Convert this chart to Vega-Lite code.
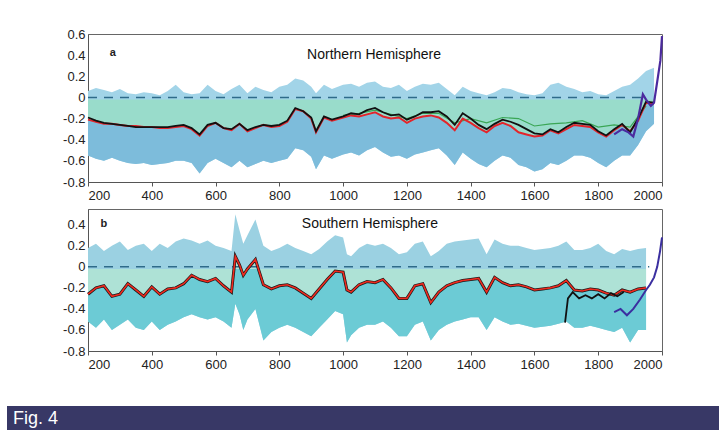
{
"$schema": "https://vega.github.io/schema/vega-lite/v6.json",
"background": "white",
"padding": {"left": 7, "top": 27, "right": 0, "bottom": 0},
"config": {
  "font": "Liberation Sans",
  "view": {"stroke": "#666", "strokeWidth": 1},
  "axis": {"labelFontSize": 13, "labelColor": "#222", "domainColor": "#555", "tickColor": "#555", "grid": false, "labelOverlap": false},
  "axisX": {"tickSize": 4, "labelPadding": 3},
  "axisY": {"ticks": false, "labelPadding": 3}
},
"datasets": {
  "nh": [
    {"year":200,"hi":0.06,"lo":-0.55,"red":-0.21,"blk":-0.19},
    {"year":225,"hi":0.09,"lo":-0.58,"red":-0.23,"blk":-0.22},
    {"year":250,"hi":0.07,"lo":-0.60,"red":-0.25,"blk":-0.24},
    {"year":275,"hi":0.05,"lo":-0.57,"red":-0.25,"blk":-0.25},
    {"year":300,"hi":0.08,"lo":-0.60,"red":-0.26,"blk":-0.26},
    {"year":325,"hi":0.04,"lo":-0.62,"red":-0.27,"blk":-0.27},
    {"year":350,"hi":0.03,"lo":-0.63,"red":-0.27,"blk":-0.28},
    {"year":375,"hi":0.05,"lo":-0.62,"red":-0.28,"blk":-0.28},
    {"year":400,"hi":0.04,"lo":-0.64,"red":-0.28,"blk":-0.28},
    {"year":425,"hi":0.02,"lo":-0.63,"red":-0.29,"blk":-0.28},
    {"year":450,"hi":0.06,"lo":-0.62,"red":-0.29,"blk":-0.28},
    {"year":475,"hi":0.12,"lo":-0.60,"red":-0.28,"blk":-0.27},
    {"year":500,"hi":0.05,"lo":-0.60,"red":-0.27,"blk":-0.26},
    {"year":525,"hi":0.03,"lo":-0.62,"red":-0.30,"blk":-0.29},
    {"year":550,"hi":0.04,"lo":-0.72,"red":-0.36,"blk":-0.35},
    {"year":575,"hi":0.12,"lo":-0.62,"red":-0.27,"blk":-0.26},
    {"year":600,"hi":0.06,"lo":-0.58,"red":-0.24,"blk":-0.24},
    {"year":625,"hi":0.03,"lo":-0.62,"red":-0.29,"blk":-0.29},
    {"year":650,"hi":0.08,"lo":-0.66,"red":-0.31,"blk":-0.30},
    {"year":675,"hi":0.12,"lo":-0.60,"red":-0.25,"blk":-0.25},
    {"year":700,"hi":0.04,"lo":-0.66,"red":-0.32,"blk":-0.31},
    {"year":725,"hi":0.10,"lo":-0.63,"red":-0.29,"blk":-0.28},
    {"year":750,"hi":0.07,"lo":-0.60,"red":-0.26,"blk":-0.26},
    {"year":775,"hi":0.05,"lo":-0.62,"red":-0.28,"blk":-0.27},
    {"year":800,"hi":0.10,"lo":-0.60,"red":-0.27,"blk":-0.26},
    {"year":825,"hi":0.12,"lo":-0.58,"red":-0.23,"blk":-0.22},
    {"year":850,"hi":0.18,"lo":-0.48,"red":-0.11,"blk":-0.10},
    {"year":875,"hi":0.16,"lo":-0.50,"red":-0.13,"blk":-0.13},
    {"year":900,"hi":0.10,"lo":-0.56,"red":-0.20,"blk":-0.19},
    {"year":915,"hi":0.04,"lo":-0.68,"red":-0.33,"blk":-0.32},
    {"year":940,"hi":0.12,"lo":-0.55,"red":-0.19,"blk":-0.18},
    {"year":965,"hi":0.08,"lo":-0.58,"red":-0.22,"blk":-0.21},
    {"year":1000,"hi":0.12,"lo":-0.54,"red":-0.19,"blk":-0.18},
    {"year":1025,"hi":0.13,"lo":-0.52,"red":-0.17,"blk":-0.15},
    {"year":1050,"hi":0.10,"lo":-0.55,"red":-0.18,"blk":-0.16},
    {"year":1075,"hi":0.14,"lo":-0.50,"red":-0.16,"blk":-0.12},
    {"year":1100,"hi":0.15,"lo":-0.47,"red":-0.14,"blk":-0.10},
    {"year":1125,"hi":0.10,"lo":-0.52,"red":-0.18,"blk":-0.14},
    {"year":1150,"hi":0.09,"lo":-0.56,"red":-0.20,"blk":-0.17},
    {"year":1175,"hi":0.12,"lo":-0.55,"red":-0.19,"blk":-0.16},
    {"year":1200,"hi":0.06,"lo":-0.58,"red":-0.24,"blk":-0.21},
    {"year":1225,"hi":0.10,"lo":-0.54,"red":-0.20,"blk":-0.18},
    {"year":1250,"hi":0.13,"lo":-0.52,"red":-0.18,"blk":-0.14},
    {"year":1275,"hi":0.12,"lo":-0.50,"red":-0.17,"blk":-0.14},
    {"year":1300,"hi":0.14,"lo":-0.48,"red":-0.19,"blk":-0.13},
    {"year":1325,"hi":0.08,"lo":-0.55,"red":-0.24,"blk":-0.18},
    {"year":1350,"hi":0.02,"lo":-0.64,"red":-0.31,"blk":-0.26},
    {"year":1375,"hi":0.10,"lo":-0.52,"red":-0.20,"blk":-0.15},
    {"year":1400,"hi":0.06,"lo":-0.58,"red":-0.24,"blk":-0.20},
    {"year":1425,"hi":0.04,"lo":-0.63,"red":-0.29,"blk":-0.26},
    {"year":1450,"hi":0.02,"lo":-0.66,"red":-0.33,"blk":-0.30},
    {"year":1475,"hi":0.05,"lo":-0.60,"red":-0.27,"blk":-0.25},
    {"year":1500,"hi":0.09,"lo":-0.55,"red":-0.24,"blk":-0.21},
    {"year":1525,"hi":0.08,"lo":-0.57,"red":-0.27,"blk":-0.23},
    {"year":1550,"hi":0.05,"lo":-0.64,"red":-0.33,"blk":-0.26},
    {"year":1575,"hi":0.03,"lo":-0.66,"red":-0.35,"blk":-0.30},
    {"year":1600,"hi":0.02,"lo":-0.70,"red":-0.37,"blk":-0.34},
    {"year":1625,"hi":0.04,"lo":-0.68,"red":-0.36,"blk":-0.35},
    {"year":1650,"hi":0.12,"lo":-0.62,"red":-0.31,"blk":-0.30},
    {"year":1675,"hi":0.14,"lo":-0.64,"red":-0.34,"blk":-0.33},
    {"year":1700,"hi":0.10,"lo":-0.60,"red":-0.30,"blk":-0.28},
    {"year":1725,"hi":0.08,"lo":-0.55,"red":-0.26,"blk":-0.24},
    {"year":1750,"hi":0.05,"lo":-0.55,"red":-0.27,"blk":-0.25},
    {"year":1775,"hi":0.06,"lo":-0.57,"red":-0.28,"blk":-0.26},
    {"year":1800,"hi":0.03,"lo":-0.62,"red":-0.33,"blk":-0.32},
    {"year":1825,"hi":0.02,"lo":-0.66,"red":-0.37,"blk":-0.36},
    {"year":1850,"hi":0.06,"lo":-0.60,"red":-0.31,"blk":-0.30},
    {"year":1875,"hi":0.10,"lo":-0.55,"red":-0.26,"blk":-0.25},
    {"year":1900,"hi":0.12,"lo":-0.55,"red":-0.32,"blk":-0.33},
    {"year":1925,"hi":0.18,"lo":-0.45,"red":-0.22,"blk":-0.20},
    {"year":1950,"hi":0.25,"lo":-0.32,"red":-0.05,"blk":-0.04},
    {"year":1975,"hi":0.28,"lo":-0.25,"red":-0.06,"blk":-0.05}
  ],
  "nhg": [
    {"year":1000,"v":-0.17},{"year":1050,"v":-0.15},{"year":1100,"v":-0.12},{"year":1150,"v":-0.16},
    {"year":1200,"v":-0.20},{"year":1250,"v":-0.15},{"year":1300,"v":-0.15},{"year":1350,"v":-0.24},
    {"year":1400,"v":-0.20},{"year":1450,"v":-0.24},{"year":1500,"v":-0.19},{"year":1550,"v":-0.20},
    {"year":1600,"v":-0.27},{"year":1650,"v":-0.25},{"year":1700,"v":-0.24},{"year":1750,"v":-0.22},
    {"year":1800,"v":-0.28},{"year":1850,"v":-0.26},{"year":1900,"v":-0.28},{"year":1950,"v":-0.08}
  ],
  "nhi": [
    {"year":1850,"v":-0.35},{"year":1875,"v":-0.30},{"year":1895,"v":-0.33},{"year":1910,"v":-0.37},
    {"year":1925,"v":-0.20},{"year":1940,"v":0.03},{"year":1950,"v":-0.02},{"year":1965,"v":-0.08},
    {"year":1975,"v":-0.05},{"year":1985,"v":0.15},{"year":1995,"v":0.35},{"year":2000,"v":0.58}
  ],
  "sh": [
    {"year":200,"hi":0.18,"lo":-0.52,"red":-0.26},
    {"year":225,"hi":0.22,"lo":-0.58,"red":-0.20},
    {"year":250,"hi":0.15,"lo":-0.50,"red":-0.18},
    {"year":275,"hi":0.20,"lo":-0.60,"red":-0.28},
    {"year":300,"hi":0.24,"lo":-0.55,"red":-0.26},
    {"year":325,"hi":0.16,"lo":-0.50,"red":-0.16},
    {"year":350,"hi":0.20,"lo":-0.58,"red":-0.22},
    {"year":375,"hi":0.22,"lo":-0.60,"red":-0.28},
    {"year":400,"hi":0.15,"lo":-0.52,"red":-0.19},
    {"year":425,"hi":0.22,"lo":-0.60,"red":-0.26},
    {"year":450,"hi":0.18,"lo":-0.55,"red":-0.21},
    {"year":475,"hi":0.24,"lo":-0.52,"red":-0.20},
    {"year":500,"hi":0.27,"lo":-0.48,"red":-0.16},
    {"year":525,"hi":0.25,"lo":-0.45,"red":-0.08},
    {"year":550,"hi":0.22,"lo":-0.48,"red":-0.12},
    {"year":575,"hi":0.25,"lo":-0.50,"red":-0.14},
    {"year":600,"hi":0.20,"lo":-0.48,"red":-0.11},
    {"year":625,"hi":0.18,"lo":-0.52,"red":-0.18},
    {"year":650,"hi":0.15,"lo":-0.58,"red":-0.24},
    {"year":662,"hi":0.50,"lo":-0.35,"red":0.10},
    {"year":675,"hi":0.35,"lo":-0.45,"red":0.02},
    {"year":687,"hi":0.22,"lo":-0.60,"red":-0.08},
    {"year":700,"hi":0.30,"lo":-0.50,"red":-0.02},
    {"year":725,"hi":0.45,"lo":-0.40,"red":0.07},
    {"year":750,"hi":0.20,"lo":-0.70,"red":-0.17},
    {"year":775,"hi":0.15,"lo":-0.62,"red":-0.21},
    {"year":800,"hi":0.18,"lo":-0.58,"red":-0.18},
    {"year":825,"hi":0.22,"lo":-0.55,"red":-0.17},
    {"year":850,"hi":0.18,"lo":-0.58,"red":-0.20},
    {"year":875,"hi":0.15,"lo":-0.62,"red":-0.25},
    {"year":900,"hi":0.12,"lo":-0.66,"red":-0.30},
    {"year":925,"hi":0.17,"lo":-0.58,"red":-0.21},
    {"year":950,"hi":0.24,"lo":-0.50,"red":-0.12},
    {"year":975,"hi":0.30,"lo":-0.42,"red":-0.04},
    {"year":1000,"hi":0.28,"lo":-0.45,"red":-0.05},
    {"year":1012,"hi":0.12,"lo":-0.72,"red":-0.22},
    {"year":1025,"hi":0.10,"lo":-0.65,"red":-0.24},
    {"year":1050,"hi":0.18,"lo":-0.58,"red":-0.17},
    {"year":1075,"hi":0.22,"lo":-0.55,"red":-0.14},
    {"year":1100,"hi":0.20,"lo":-0.55,"red":-0.15},
    {"year":1125,"hi":0.22,"lo":-0.52,"red":-0.12},
    {"year":1150,"hi":0.18,"lo":-0.58,"red":-0.20},
    {"year":1175,"hi":0.12,"lo":-0.66,"red":-0.30},
    {"year":1200,"hi":0.14,"lo":-0.66,"red":-0.30},
    {"year":1225,"hi":0.22,"lo":-0.55,"red":-0.18},
    {"year":1250,"hi":0.24,"lo":-0.52,"red":-0.16},
    {"year":1275,"hi":0.10,"lo":-0.70,"red":-0.34},
    {"year":1300,"hi":0.15,"lo":-0.60,"red":-0.24},
    {"year":1325,"hi":0.22,"lo":-0.55,"red":-0.18},
    {"year":1350,"hi":0.24,"lo":-0.52,"red":-0.15},
    {"year":1375,"hi":0.25,"lo":-0.50,"red":-0.13},
    {"year":1400,"hi":0.26,"lo":-0.48,"red":-0.12},
    {"year":1425,"hi":0.27,"lo":-0.48,"red":-0.11},
    {"year":1450,"hi":0.12,"lo":-0.60,"red":-0.24},
    {"year":1475,"hi":0.26,"lo":-0.48,"red":-0.10},
    {"year":1500,"hi":0.22,"lo":-0.52,"red":-0.15},
    {"year":1525,"hi":0.20,"lo":-0.55,"red":-0.18},
    {"year":1550,"hi":0.20,"lo":-0.54,"red":-0.17},
    {"year":1575,"hi":0.18,"lo":-0.56,"red":-0.19},
    {"year":1600,"hi":0.16,"lo":-0.58,"red":-0.22},
    {"year":1625,"hi":0.17,"lo":-0.57,"red":-0.21},
    {"year":1650,"hi":0.18,"lo":-0.56,"red":-0.20},
    {"year":1675,"hi":0.20,"lo":-0.54,"red":-0.18},
    {"year":1700,"hi":0.24,"lo":-0.52,"red":-0.13},
    {"year":1725,"hi":0.16,"lo":-0.58,"red":-0.22},
    {"year":1750,"hi":0.16,"lo":-0.58,"red":-0.23},
    {"year":1775,"hi":0.18,"lo":-0.56,"red":-0.21},
    {"year":1800,"hi":0.22,"lo":-0.58,"red":-0.22},
    {"year":1825,"hi":0.15,"lo":-0.60,"red":-0.25},
    {"year":1850,"hi":0.12,"lo":-0.62,"red":-0.27},
    {"year":1875,"hi":0.17,"lo":-0.58,"red":-0.22},
    {"year":1900,"hi":0.15,"lo":-0.72,"red":-0.24},
    {"year":1925,"hi":0.17,"lo":-0.60,"red":-0.21},
    {"year":1950,"hi":0.18,"lo":-0.60,"red":-0.20}
  ],
  "shb": [
    {"year":1696,"v":-0.53},{"year":1705,"v":-0.30},{"year":1720,"v":-0.24},{"year":1740,"v":-0.30},
    {"year":1760,"v":-0.27},{"year":1780,"v":-0.30},{"year":1800,"v":-0.26},{"year":1820,"v":-0.30},
    {"year":1840,"v":-0.25},{"year":1860,"v":-0.28},{"year":1880,"v":-0.24}
  ],
  "shi": [
    {"year":1850,"v":-0.43},{"year":1870,"v":-0.40},{"year":1890,"v":-0.46},{"year":1910,"v":-0.40},
    {"year":1931,"v":-0.31},{"year":1950,"v":-0.22},{"year":1962,"v":-0.17},{"year":1975,"v":-0.10},
    {"year":1985,"v":0.0},{"year":1994,"v":0.15},{"year":2000,"v":0.28}
  ]
},
"spacing": 34,
"vconcat": [
  {
    "spacing": 0,
    "hconcat": [
      {
        "width": 55,
        "height": 10,
        "view": {"fill": "white", "stroke": null},
        "data": {"values": []},
        "mark": "point"
      },
      {
        "spacing": 5,
        "vconcat": [
          {
            "width": 574,
            "height": 148,
            "layer": [
              {"data": {"name": "nh"}, "mark": {"type": "area", "color": "#a2d4e8"},
               "encoding": {
                 "x": {"field": "year", "type": "quantitative", "title": null, "scale": {"domain": [200, 2000], "nice": false, "zero": false},
                       "axis": {"values": [200,400,600,800,1000,1200,1400,1600,1800,2000], "tickCount": 20, "format": "d", "labelOverlap": false}},
                 "y": {"field": "lo", "type": "quantitative", "title": null, "scale": {"domain": [-0.8, 0.6], "nice": false, "zero": false},
                       "axis": {"values": [-0.8,-0.6,-0.4,-0.2,0,0.2,0.4,0.6], "tickCount": 20, "labelOverlap": false, "labelExpr": "replace(format(datum.value, '.1~f'), '\u2212', '-')"}},
                 "y2": {"field": "hi"}}},
              {"data": {"name": "nh"}, "mark": {"type": "area", "color": "#7dbcdb"},
               "encoding": {
                 "x": {"field": "year", "type": "quantitative", "title": null, "scale": {"domain": [200, 2000], "nice": false, "zero": false}},
                 "y": {"field": "lo", "type": "quantitative", "title": null, "scale": {"domain": [-0.8, 0.6], "nice": false, "zero": false}},
                 "y2": {"field": "red"}}},
              {"data": {"name": "nh"}, "mark": {"type": "area", "color": "#99dccb"},
               "encoding": {
                 "x": {"field": "year", "type": "quantitative", "title": null, "scale": {"domain": [200, 2000], "nice": false, "zero": false}},
                 "y": {"field": "red", "type": "quantitative", "title": null, "scale": {"domain": [-0.8, 0.6], "nice": false, "zero": false}},
                 "y2": {"datum": -0.02}}},
              {"data": {"values": [{}]}, "mark": {"type": "rule", "color": "#2f6b8a", "strokeDash": [9, 7], "strokeWidth": 1.5},
               "encoding": {
                 "x": {"datum": 200, "type": "quantitative", "title": null, "scale": {"domain": [200, 2000], "nice": false, "zero": false}},
                 "x2": {"datum": 1950},
                 "y": {"datum": 0, "type": "quantitative", "title": null, "scale": {"domain": [-0.8, 0.6], "nice": false, "zero": false}}}},
              {"data": {"name": "nhg"}, "mark": {"type": "line", "color": "#3aa655", "strokeWidth": 1.2},
               "encoding": {
                 "x": {"field": "year", "type": "quantitative", "title": null, "scale": {"domain": [200, 2000], "nice": false, "zero": false}},
                 "y": {"field": "v", "type": "quantitative", "title": null, "scale": {"domain": [-0.8, 0.6], "nice": false, "zero": false}}}},
              {"data": {"name": "nh"}, "mark": {"type": "line", "color": "#e3242b", "strokeWidth": 2},
               "encoding": {
                 "x": {"field": "year", "type": "quantitative", "title": null, "scale": {"domain": [200, 2000], "nice": false, "zero": false}},
                 "y": {"field": "red", "type": "quantitative", "title": null, "scale": {"domain": [-0.8, 0.6], "nice": false, "zero": false}}}},
              {"data": {"name": "nh"}, "mark": {"type": "line", "color": "#111111", "strokeWidth": 1.8},
               "encoding": {
                 "x": {"field": "year", "type": "quantitative", "title": null, "scale": {"domain": [200, 2000], "nice": false, "zero": false}},
                 "y": {"field": "blk", "type": "quantitative", "title": null, "scale": {"domain": [-0.8, 0.6], "nice": false, "zero": false}}}},
              {"data": {"name": "nhi"}, "mark": {"type": "line", "color": "#4b2a9e", "strokeWidth": 2.2},
               "encoding": {
                 "x": {"field": "year", "type": "quantitative", "title": null, "scale": {"domain": [200, 2000], "nice": false, "zero": false}},
                 "y": {"field": "v", "type": "quantitative", "title": null, "scale": {"domain": [-0.8, 0.6], "nice": false, "zero": false}}}},
              {"data": {"values": [{"label": "Northern Hemisphere"}]}, "mark": {"type": "text", "fontSize": 14, "color": "#111"},
               "encoding": {"text": {"field": "label"},
                 "x": {"datum": 1097, "type": "quantitative", "title": null, "scale": {"domain": [200, 2000], "nice": false, "zero": false}},
                 "y": {"datum": 0.4, "type": "quantitative", "title": null, "scale": {"domain": [-0.8, 0.6], "nice": false, "zero": false}}}},
              {"data": {"values": [{"label": "a"}]}, "mark": {"type": "text", "fontSize": 11, "fontWeight": "bold", "color": "#222"},
               "encoding": {"text": {"field": "label"},
                 "x": {"datum": 278, "type": "quantitative", "title": null, "scale": {"domain": [200, 2000], "nice": false, "zero": false}},
                 "y": {"datum": 0.42, "type": "quantitative", "title": null, "scale": {"domain": [-0.8, 0.6], "nice": false, "zero": false}}}}
            ]
          },
          {
            "width": 574,
            "height": 142,
            "layer": [
              {"data": {"name": "sh"}, "mark": {"type": "area", "color": "#9bd1e2"},
               "encoding": {
                 "x": {"field": "year", "type": "quantitative", "title": null, "scale": {"domain": [200, 2000], "nice": false, "zero": false},
                       "axis": {"values": [200,400,600,800,1000,1200,1400,1600,1800,2000], "tickCount": 20, "format": "d", "labelOverlap": false}},
                 "y": {"field": "lo", "type": "quantitative", "title": null, "scale": {"domain": [-0.8, 0.55], "nice": false, "zero": false},
                       "axis": {"values": [-0.8,-0.6,-0.4,-0.2,0,0.2,0.4], "tickCount": 20, "labelOverlap": false, "labelExpr": "replace(format(datum.value, '.1~f'), '\u2212', '-')"}},
                 "y2": {"field": "hi"}}},
              {"data": {"name": "sh"}, "mark": {"type": "area", "color": "#6ccbd5"},
               "encoding": {
                 "x": {"field": "year", "type": "quantitative", "title": null, "scale": {"domain": [200, 2000], "nice": false, "zero": false}},
                 "y": {"field": "lo", "type": "quantitative", "title": null, "scale": {"domain": [-0.8, 0.55], "nice": false, "zero": false}},
                 "y2": {"field": "red"}}},
              {"data": {"name": "sh"}, "mark": {"type": "area", "color": "#aee2d6"},
               "encoding": {
                 "x": {"field": "year", "type": "quantitative", "title": null, "scale": {"domain": [200, 2000], "nice": false, "zero": false}},
                 "y": {"field": "red", "type": "quantitative", "title": null, "scale": {"domain": [-0.8, 0.55], "nice": false, "zero": false}},
                 "y2": {"datum": -0.02}}},
              {"data": {"values": [{}]}, "mark": {"type": "rule", "color": "#2f6b8a", "strokeDash": [9, 7], "strokeWidth": 1.5},
               "encoding": {
                 "x": {"datum": 200, "type": "quantitative", "title": null, "scale": {"domain": [200, 2000], "nice": false, "zero": false}},
                 "x2": {"datum": 1960},
                 "y": {"datum": 0, "type": "quantitative", "title": null, "scale": {"domain": [-0.8, 0.55], "nice": false, "zero": false}}}},
              {"data": {"name": "sh"}, "mark": {"type": "line", "color": "#1a1a1a", "strokeWidth": 3},
               "encoding": {
                 "x": {"field": "year", "type": "quantitative", "title": null, "scale": {"domain": [200, 2000], "nice": false, "zero": false}},
                 "y": {"field": "red", "type": "quantitative", "title": null, "scale": {"domain": [-0.8, 0.55], "nice": false, "zero": false}}}},
              {"data": {"name": "sh"}, "mark": {"type": "line", "color": "#ee2a1f", "strokeWidth": 1.6},
               "encoding": {
                 "x": {"field": "year", "type": "quantitative", "title": null, "scale": {"domain": [200, 2000], "nice": false, "zero": false}},
                 "y": {"field": "red", "type": "quantitative", "title": null, "scale": {"domain": [-0.8, 0.55], "nice": false, "zero": false}}}},
              {"data": {"name": "shb"}, "mark": {"type": "line", "color": "#111111", "strokeWidth": 1.8},
               "encoding": {
                 "x": {"field": "year", "type": "quantitative", "title": null, "scale": {"domain": [200, 2000], "nice": false, "zero": false}},
                 "y": {"field": "v", "type": "quantitative", "title": null, "scale": {"domain": [-0.8, 0.55], "nice": false, "zero": false}}}},
              {"data": {"name": "shi"}, "mark": {"type": "line", "color": "#3b2fa0", "strokeWidth": 2},
               "encoding": {
                 "x": {"field": "year", "type": "quantitative", "title": null, "scale": {"domain": [200, 2000], "nice": false, "zero": false}},
                 "y": {"field": "v", "type": "quantitative", "title": null, "scale": {"domain": [-0.8, 0.55], "nice": false, "zero": false}}}},
              {"data": {"values": [{"label": "Southern Hemisphere"}]}, "mark": {"type": "text", "fontSize": 14, "color": "#111"},
               "encoding": {"text": {"field": "label"},
                 "x": {"datum": 1084, "type": "quantitative", "title": null, "scale": {"domain": [200, 2000], "nice": false, "zero": false}},
                 "y": {"datum": 0.41, "type": "quantitative", "title": null, "scale": {"domain": [-0.8, 0.55], "nice": false, "zero": false}}}},
              {"data": {"values": [{"label": "b"}]}, "mark": {"type": "text", "fontSize": 11, "fontWeight": "bold", "color": "#222"},
               "encoding": {"text": {"field": "label"},
                 "x": {"datum": 250, "type": "quantitative", "title": null, "scale": {"domain": [200, 2000], "nice": false, "zero": false}},
                 "y": {"datum": 0.41, "type": "quantitative", "title": null, "scale": {"domain": [-0.8, 0.55], "nice": false, "zero": false}}}}
            ]
          }
        ]
      }
    ]
  },
  {
    "width": 712,
    "height": 25,
    "view": {"fill": "#383866", "stroke": null},
    "data": {"values": [{"label": "Fig. 4"}]},
    "mark": {"type": "text", "align": "left", "baseline": "middle", "dx": 6, "color": "white", "fontSize": 18},
    "encoding": {
      "text": {"field": "label"},
      "x": {"datum": 0, "type": "quantitative", "scale": {"domain": [0, 1]}, "axis": null}
    }
  }
]
}
